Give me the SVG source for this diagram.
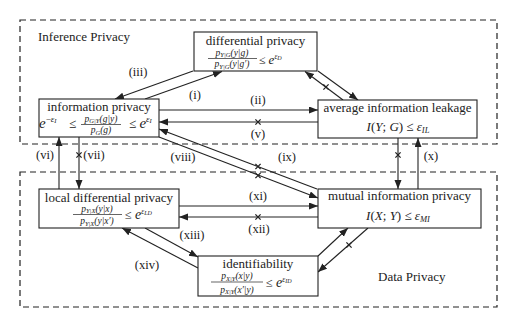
<svg xmlns="http://www.w3.org/2000/svg" width="510" height="321" viewBox="0 0 510 321">
<defs>
<marker id="ah" markerUnits="userSpaceOnUse" markerWidth="10" markerHeight="8" refX="9" refY="3.5" orient="auto">
<path d="M0,0 L9,3.5 L0,7 z" fill="#222"/>
</marker>
<path id="x" d="M-2.6,-2.6 L2.6,2.6 M-2.6,2.6 L2.6,-2.6" stroke="#222" stroke-width="1.3" fill="none"/>
</defs>
<style>
text{font-family:"Liberation Serif","DejaVu Serif","Times New Roman",serif;fill:#222}
.t{font-size:13px;text-anchor:middle}
.lab{font-size:12.5px;text-anchor:middle}
.sec{font-size:13px}
.m{font-style:italic}
.fr{font-size:9.5px;text-anchor:middle;font-style:italic}
.box{fill:#fff;stroke:#222;stroke-width:1.1}
.dash{fill:none;stroke:#222;stroke-width:1.2;stroke-dasharray:6,4}
.c line{stroke:#222;stroke-width:1.1;marker-end:url(#ah)}
.bar{stroke:#222;stroke-width:0.7}
</style>
<rect width="510" height="321" fill="#fff"/>
<rect class="dash" x="20" y="20" width="477" height="124"/>
<rect class="dash" x="20" y="172" width="477" height="135"/>
<text class="sec" x="38" y="41">Inference Privacy</text>
<text class="sec" x="378" y="281">Data Privacy</text>

<g id="connectors" class="c">
<line x1="193" y1="71" x2="115" y2="99"/>
<line x1="145" y1="99" x2="222" y2="71.5"/>
<line x1="343" y1="100" x2="305" y2="71.5"/>
<line x1="318" y1="71" x2="358" y2="100"/>
<line x1="159" y1="110" x2="318" y2="110"/>
<line x1="318" y1="122" x2="159" y2="122"/>
<line x1="317" y1="189" x2="159" y2="129"/>
<line x1="159" y1="137" x2="318" y2="198"/>
<line x1="59" y1="189" x2="59" y2="137"/>
<line x1="79" y1="137" x2="79" y2="189"/>
<line x1="398" y1="138" x2="398" y2="189"/>
<line x1="418" y1="189" x2="418" y2="138"/>
<line x1="179" y1="206" x2="318" y2="206"/>
<line x1="318" y1="217" x2="179" y2="217"/>
<line x1="145" y1="228" x2="198" y2="257"/>
<line x1="198" y1="268" x2="122" y2="228"/>
<line x1="318" y1="256" x2="348" y2="228"/>
<line x1="368" y1="228" x2="318" y2="272"/>
<use href="#x" x="326" y="87"/>
<use href="#x" x="258" y="122"/>
<use href="#x" x="258" y="166.5"/>
<use href="#x" x="258" y="175.5"/>
<use href="#x" x="79" y="155"/>
<use href="#x" x="398" y="155"/>
<use href="#x" x="258" y="217"/>
<use href="#x" x="349" y="245"/>
<text class="lab" x="138" y="76">(iii)</text>
<text class="lab" x="195" y="99">(i)</text>
<text class="lab" x="258" y="104">(ii)</text>
<text class="lab" x="258" y="138">(v)</text>
<text class="lab" x="45" y="159">(vi)</text>
<text class="lab" x="94" y="159">(vii)</text>
<text class="lab" x="183" y="161">(viii)</text>
<text class="lab" x="287" y="161">(ix)</text>
<text class="lab" x="431" y="160">(x)</text>
<text class="lab" x="258" y="200">(xi)</text>
<text class="lab" x="259" y="233">(xii)</text>
<text class="lab" x="192" y="239">(xiii)</text>
<text class="lab" x="147" y="269">(xiv)</text>
</g>

<g id="dp">
<rect class="box" x="194" y="32" width="123" height="39"/>
<text class="t" x="255.5" y="44.5">differential privacy</text>
<text class="fr" x="232" y="55.5">p<tspan dy="1.5" font-size="6.5">Y|G</tspan><tspan dy="-1.5">(y|g)</tspan></text>
<line class="bar" x1="208" y1="58.5" x2="257" y2="58.5"/>
<text class="fr" x="232" y="67">p<tspan dy="1.5" font-size="6.5">Y|G</tspan><tspan dy="-1.5">(y|g′)</tspan></text>
<text x="259" y="64" font-size="12">≤ <tspan class="m" font-size="13">e</tspan><tspan class="m" font-size="7.5" dy="-5">ε<tspan font-size="6" dy="1">D</tspan></tspan></text>
</g>

<g id="ip">
<rect class="box" x="39" y="99" width="120" height="38"/>
<text class="t" x="99" y="111">information privacy</text>
<text x="39" y="127.5" font-size="15"><tspan class="m">e</tspan><tspan font-size="9" dy="-6">−</tspan><tspan class="m" font-size="9">ε</tspan><tspan class="m" font-size="6.5" dy="1">I</tspan></text>
<text x="69" y="128" font-size="13">≤</text>
<text class="fr" x="101" y="121.5">p<tspan dy="1.5" font-size="6.5">G|Y</tspan><tspan dy="-1.5">(g|y)</tspan></text>
<line class="bar" x1="81" y1="124.5" x2="121" y2="124.5"/>
<text class="fr" x="101" y="133">p<tspan dy="1.5" font-size="6.5">G</tspan><tspan dy="-1.5">(g)</tspan></text>
<text x="129" y="128" font-size="13">≤ <tspan class="m" font-size="15">e</tspan><tspan class="m" font-size="9" dy="-6">ε<tspan font-size="6.5" dy="1">I</tspan></tspan></text>
</g>

<g id="ail">
<rect class="box" x="318" y="100" width="159" height="38"/>
<text class="t" x="397.5" y="112">average information leakage</text>
<text class="t" x="398" y="131" font-size="13.5"><tspan class="m">I</tspan>(<tspan class="m">Y</tspan>; <tspan class="m">G</tspan>) ≤ <tspan class="m">ε</tspan><tspan class="m" font-size="8.5" dy="2">IL</tspan></text>
</g>

<g id="ldp">
<rect class="box" x="39" y="189" width="140" height="39"/>
<text class="t" x="109" y="201.5">local differential privacy</text>
<text class="fr" x="97" y="211.5">p<tspan dy="1.5" font-size="6.5">Y|X</tspan><tspan dy="-1.5">(y|x)</tspan></text>
<line class="bar" x1="73" y1="214.5" x2="122" y2="214.5"/>
<text class="fr" x="97" y="224">p<tspan dy="1.5" font-size="6.5">Y|X</tspan><tspan dy="-1.5">(y|x′)</tspan></text>
<text x="125" y="219" font-size="12.5">≤ <tspan class="m" font-size="14">e</tspan><tspan class="m" font-size="7.5" dy="-5.5">ε<tspan font-size="6" dy="1">LD</tspan></tspan></text>
</g>

<g id="mip">
<rect class="box" x="318" y="189" width="163" height="39"/>
<text class="t" x="399.5" y="200">mutual information privacy</text>
<text class="t" x="398" y="220" font-size="13.5"><tspan class="m">I</tspan>(<tspan class="m">X</tspan>; <tspan class="m">Y</tspan>) ≤ <tspan class="m">ε</tspan><tspan class="m" font-size="8.5" dy="2">MI</tspan></text>
</g>

<g id="idf">
<rect class="box" x="198" y="256" width="120" height="40"/>
<text class="t" x="258" y="267.5">identifiability</text>
<text class="fr" x="237" y="279">p<tspan dy="1.5" font-size="6.5">X|Y</tspan><tspan dy="-1.5">(x|y)</tspan></text>
<line class="bar" x1="211" y1="282" x2="263" y2="282"/>
<text class="fr" x="237" y="292.5">p<tspan dy="1.5" font-size="6.5">X|Y</tspan><tspan dy="-1.5">(x′|y)</tspan></text>
<text x="266" y="287" font-size="12.5">≤ <tspan class="m" font-size="14">e</tspan><tspan class="m" font-size="7.5" dy="-5.5">ε<tspan font-size="6" dy="1">ID</tspan></tspan></text>
</g>
</svg>
